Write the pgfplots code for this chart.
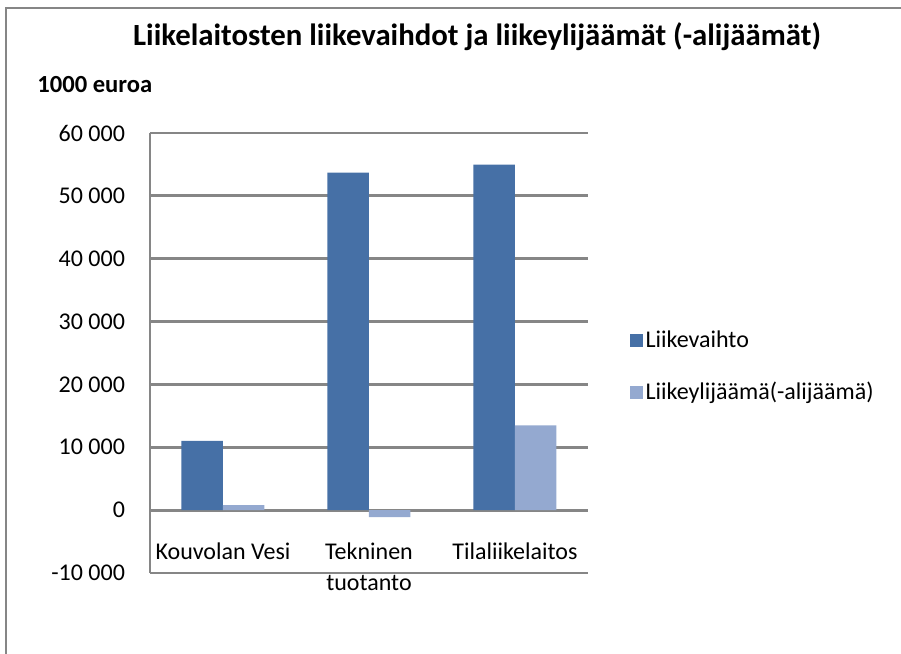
\documentclass[border=0pt]{standalone}
\usepackage{pgfplots}
\pgfplotsset{compat=1.18}
\usepackage{fontspec}
\setmainfont{Carlito}
\definecolor{darkblue}{HTML}{4670A6}
\definecolor{lightblue}{HTML}{94A9D0}
\definecolor{gridgray}{HTML}{868686}
\begin{document}
\begin{tikzpicture}[x=1pt,y=1pt]
\useasboundingbox (0,0) rectangle (450.5,327);
\draw[gridgray, line width=1pt] (3,-1) -- (3,323) -- (452,323);
\node[font=\fontsize{15.4}{18}\selectfont\bfseries] at (238.5,308.5) {Liikelaitosten liikevaihdot ja liikeylijäämät (-alijäämät)};
\node[font=\fontsize{12.3}{14}\selectfont\bfseries, anchor=west, inner sep=0pt] at (18.5,284.5) {1000 euroa};
\begin{axis}[
  at={(75pt,40.5pt)}, anchor=south west,
  scale only axis, width=219pt, height=220pt,
  ybar=0pt, bar width=20.75pt,
  xmin=-0.5, xmax=2.5, ymin=-10000, ymax=60000,
  ytick={-10000,0,10000,20000,30000,40000,50000,60000},
  scaled y ticks=false,
  xtick={0,1,2},
  xticklabels={Kouvolan Vesi,{Tekninen\\tuotanto},Tilaliikelaitos},
  xtick style={draw=none}, ytick style={draw=none},
  axis y line*=left, axis x line*=bottom,
  x axis line style={draw=none},
  y axis line style={gridgray, line width=1.3pt},
  ymajorgrids,
  major grid style={gridgray, line width=1.45pt},
  /pgf/number format/assume math mode=true,
  /pgf/number format/1000 sep={\ },
  ticklabel style={font=\fontsize{12}{15.5}\selectfont},
  yticklabel style={xshift=-9pt},
  xticklabel style={align=center, anchor=north, yshift=23pt},
  legend style={draw=none, fill=none, at={(1.094,0.469)}, anchor=west,
    font=\fontsize{12}{14}\selectfont, inner sep=0pt, row sep=13pt,
    nodes={inner sep=1.5pt}},
  legend cell align=left,
  legend image code/.code={\fill[#1] (0pt,-3.25pt) rectangle (6.5pt,3.25pt);},
]
\addplot[fill=darkblue, draw=none] coordinates {(0,11000) (1,53700) (2,54950)};
\addplot[fill=lightblue, draw=none] coordinates {(0,800) (1,-1100) (2,13500)};
\legend{Liikevaihto,Liikeylijäämä(-alijäämä)}
\end{axis}
\end{tikzpicture}
\end{document}
